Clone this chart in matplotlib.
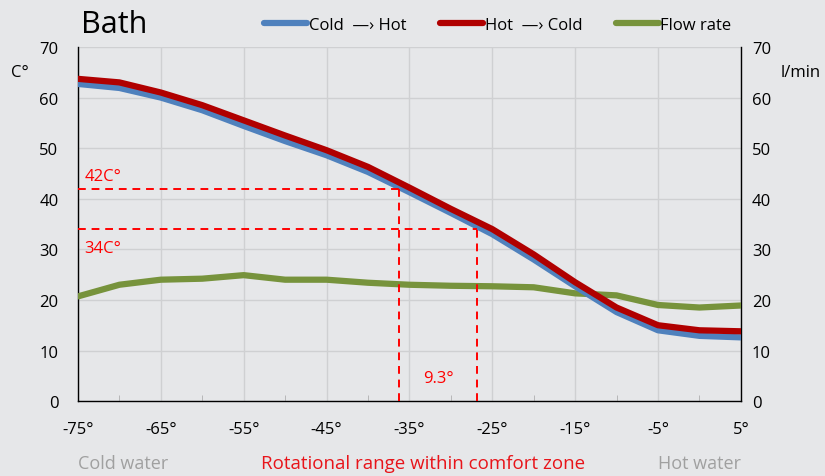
import numpy as np
import matplotlib.pyplot as plt

plt.rcParams['font.family'] = ['Open Sans', 'DejaVu Sans']

# rotation angle (deg)
angle = [-75, -70, -65, -60, -55, -50, -45, -40, -35, -30, -25, -20, -15, -10, -5, 0, 5]
cold_to_hot = [62.7, 61.9, 60.0, 57.5, 54.4, 51.4, 48.6, 45.3, 41.3, 37.2, 33.0, 28.0, 22.7, 17.6, 14.0, 12.9, 12.6]
hot_to_cold = [63.7, 63.0, 61.0, 58.5, 55.5, 52.5, 49.6, 46.3, 42.2, 38.0, 34.0, 29.0, 23.5, 18.5, 15.0, 14.0, 13.8]
flow_rate = [20.7, 23.0, 24.0, 24.2, 24.9, 24.0, 24.0, 23.4, 23.0, 22.8, 22.7, 22.5, 21.3, 20.9, 19.0, 18.5, 18.9]

xticks = [-75, -65, -55, -45, -35, -25, -15, -5, 5]
yticks = [0, 10, 20, 30, 40, 50, 60, 70]

# comfort zone markers
temp_marks = [42, 34]
angle_marks = [-36.2, -26.9]

bg = '#e6e7e9'
fig = plt.figure(figsize=(8.25, 4.77), dpi=100, facecolor=bg)
ax = fig.add_axes([0.0945, 0.157, 0.8035, 0.7424], facecolor=bg)

ax.set_xlim(-75, 5)
ax.set_ylim(0, 70)
ax.set_xticks(xticks)
ax.set_xticklabels([f'{t}°' for t in xticks])
ax.set_xticks(np.arange(-75, 6, 5), minor=True)
ax.set_yticks(yticks)
ax.grid(True, color='#cfd0d2', lw=1)
ax.set_axisbelow(True)
ax.tick_params(axis='y', labelsize=12, length=0, pad=14)
ax.tick_params(axis='x', labelsize=12, length=0, pad=14)
ax.tick_params(axis='x', which='minor', direction='in', length=4, color='#b0b0b0')
for s in ['left', 'bottom', 'right']:
    ax.spines[s].set_color('black')
    ax.spines[s].set_linewidth(1)
ax.spines['top'].set_visible(False)

ax.plot(angle, flow_rate, color='#77933c', lw=4.5, solid_capstyle='round', label='Flow rate', zorder=3)
ax.plot(angle, cold_to_hot, color='#4f81bd', lw=4.5, solid_capstyle='round', label='Cold  \u2014\u203a Hot', zorder=4)
ax.plot(angle, hot_to_cold, color='#b00000', lw=4.5, solid_capstyle='round', label='Hot  \u2014\u203a Cold', zorder=5)

for t, a in zip(temp_marks, angle_marks):
    ax.plot([-75, a], [t, t], color='red', lw=1.4, ls=(0, (4, 3)), zorder=6)
    ax.plot([a, a], [0, t], color='red', lw=1.4, ls=(0, (4, 3)), zorder=6)

ax.text(-74.2, 44.5, '42C°', color='red', fontsize=12, ha='left', va='center')
ax.text(-74.2, 30.2, '34C°', color='red', fontsize=12, ha='left', va='center')
ax.text(np.mean(angle_marks), 4.5, f'{angle_marks[1] - angle_marks[0]:.1f}°', color='red',
        fontsize=12, ha='center', va='center')

ax2 = ax.twinx()
ax2.set_ylim(0, 70)
ax2.set_yticks(yticks)
ax2.tick_params(axis='y', labelsize=12, length=0, pad=8)
for s in ax2.spines.values():
    s.set_visible(False)

fig.text(0.024, 0.847, 'C°', fontsize=12, ha='center', va='center')
fig.text(0.97, 0.848, 'l/min', fontsize=12, ha='center', va='center')
fig.text(0.098, 0.947, 'Bath', fontsize=22, ha='left', va='center')

h, l = ax.get_legend_handles_labels()
order = [1, 2, 0]
fig.legend([h[i] for i in order], [l[i] for i in order], loc='center right',
           bbox_to_anchor=(0.905, 0.945), ncol=3, frameon=False, fontsize=12,
           handlelength=2.6, handletextpad=0.1, columnspacing=2.0)

fig.text(0.149, 0.027, 'Cold water', color='#a0a0a0', fontsize=13, ha='center', va='center')
fig.text(0.513, 0.027, 'Rotational range within comfort zone', color='#e8141a', fontsize=13.5, ha='center', va='center')
fig.text(0.848, 0.027, 'Hot water', color='#a0a0a0', fontsize=13, ha='center', va='center')

fig.savefig('out.png', dpi=100, facecolor=bg)
